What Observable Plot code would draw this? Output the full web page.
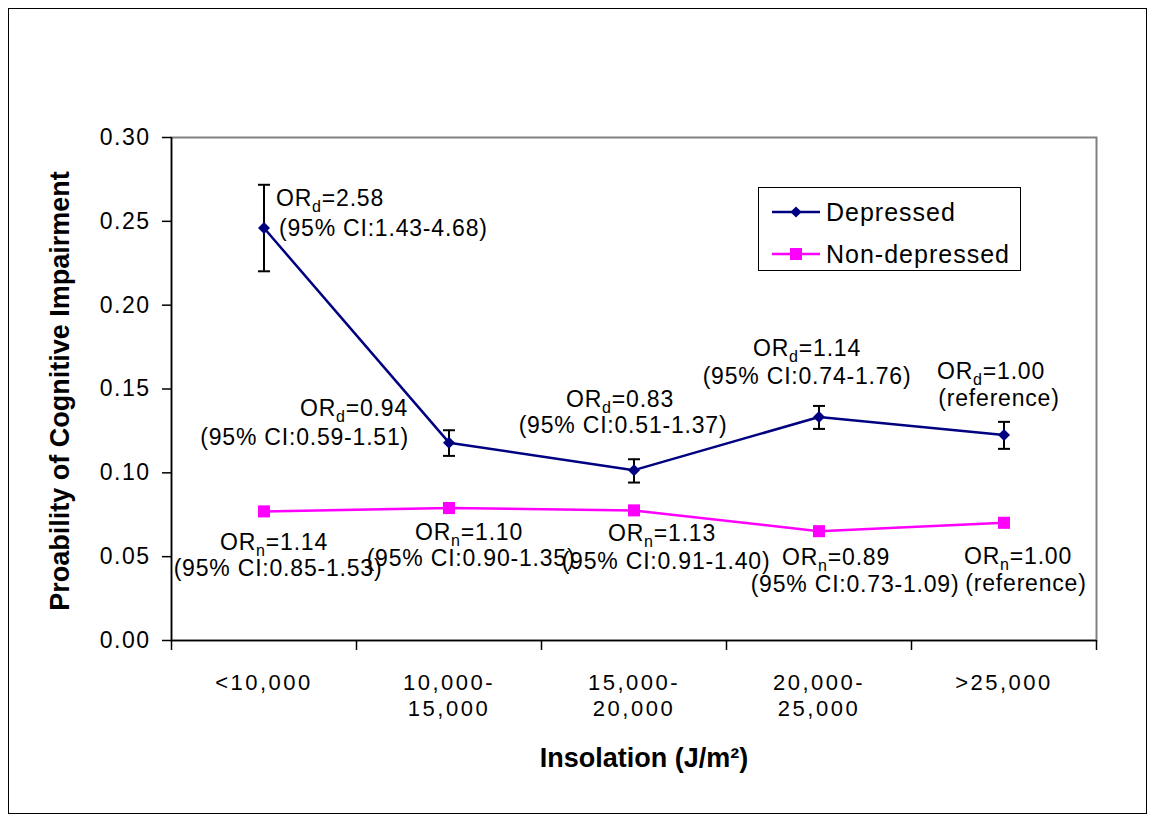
<!DOCTYPE html>
<html><head><meta charset="utf-8">
<script src="https://cdn.jsdelivr.net/npm/d3@7"></script>
<script src="https://cdn.jsdelivr.net/npm/@observablehq/plot@0.6"></script>
<style>
html,body{margin:0;padding:0;background:#fff;}
#wrap{position:relative;width:1156px;height:820px;font-family:"Liberation Sans",Arial,sans-serif;}
#border{position:absolute;left:8px;top:8px;width:1139px;height:806px;border:1.5px solid #000;box-sizing:border-box;pointer-events:none;}
#legend{position:absolute;left:758px;top:187px;width:263px;height:84px;border:1.5px solid #000;box-sizing:border-box;background:#fff;}
#legend .row{position:absolute;left:0;height:34px;display:flex;align-items:center;font-size:25px;letter-spacing:1px;color:#000;}
#legend svg{margin-left:13px;margin-right:6px;}
.ytl text{letter-spacing:1.5px;}
.catl text{letter-spacing:2.5px;}
.ann text{letter-spacing:0.8px;}
</style></head><body>
<div id="wrap"><div id="border"></div><div id="legend"></div></div>
<script>
// ---- data ----
const categories = ["<10,000", "10,000-\n15,000", "15,000-\n20,000", "20,000-\n25,000", ">25,000"];
const seriesNames = ["Depressed", "Non-depressed"];
const depressed = [0.246, 0.118, 0.1016, 0.1333, 0.1226];
const depLow    = [0.2202, 0.1101, 0.0942, 0.1262, 0.1143];
const depHigh   = [0.2718, 0.1254, 0.1081, 0.1399, 0.1304];
const nonDepressed = [0.0770, 0.0790, 0.0776, 0.0652, 0.0702];
const depOR = ["2.58", "0.94", "0.83", "1.14", "1.00"];
const depCI = ["(95% CI:1.43-4.68)", "(95% CI:0.59-1.51)", "(95% CI:0.51-1.37)", "(95% CI:0.74-1.76)", "(reference)"];
const nonOR = ["1.14", "1.10", "1.13", "0.89", "1.00"];
const nonCI = ["(95% CI:0.85-1.53)", "(95% CI:0.90-1.35)", "(95% CI:0.91-1.40)", "(95% CI:0.73-1.09)", "(reference)"];
const yTicks = [0, 0.05, 0.10, 0.15, 0.20, 0.25, 0.30];
const yLabel = "Proability of Cognitive Impairment";
const xLabel = "Insolation (J/m²)";

// ---- styling / layout ----
const colors = ["#000080", "#FF00FF"];
const depLayout = [
  {anchor: "start",  l1: [12, -29], l2: [15, 1]},
  {anchor: "end",    l1: [-41, -34], l2: [-40, -5]},
  {anchor: "middle", l1: [-14, -71], l2: [-11, -45]},
  {anchor: "middle", l1: [-12, -68], l2: [-12, -40]},
  {anchor: "middle", l1: [-13, -63], l2: [-5, -36]}
];
const nonLayout = [
  {anchor: "middle", l1: [10, 31], l2: [14, 57]},
  {anchor: "middle", l1: [20, 25], l2: [22, 51]},
  {anchor: "middle", l1: [28, 23], l2: [32, 51]},
  {anchor: "middle", l1: [17, 26], l2: [36, 53]},
  {anchor: "middle", l1: [14, 34], l2: [22, 61]}
];

const idx = d3.range(categories.length);
const bounds = d3.range(categories.length + 1);
const depRows = idx.map(i => ({pos: i + 0.5, value: depressed[i], low: depLow[i], high: depHigh[i]}));
const nonRows = idx.map(i => ({pos: i + 0.5, value: nonDepressed[i]}));
const capSymbol = {draw(ctx, size) { const w = Math.sqrt(size) / 2; ctx.moveTo(-w, 0); ctx.lineTo(w, 0); }};

const annMarks = [];
idx.forEach(i => {
  const L = depLayout[i];
  annMarks.push(Plot.text([depRows[i]], {x: "pos", y: "value", text: () => "ORd=" + depOR[i], textAnchor: L.anchor, dx: L.l1[0], dy: L.l1[1], fontSize: 23, fill: "#000", className: "ann"}));
  annMarks.push(Plot.text([depRows[i]], {x: "pos", y: "value", text: () => depCI[i], textAnchor: L.anchor, dx: L.l2[0], dy: L.l2[1], fontSize: 23, fill: "#000", className: "ann"}));
  const N = nonLayout[i];
  annMarks.push(Plot.text([nonRows[i]], {x: "pos", y: "value", text: () => "ORn=" + nonOR[i], textAnchor: N.anchor, dx: N.l1[0], dy: N.l1[1], fontSize: 23, fill: "#000", className: "ann"}));
  annMarks.push(Plot.text([nonRows[i]], {x: "pos", y: "value", text: () => nonCI[i], textAnchor: N.anchor, dx: N.l2[0], dy: N.l2[1], fontSize: 23, fill: "#000", className: "ann"}));
});

const chart = Plot.plot({
  width: 1156, height: 820,
  marginLeft: 171, marginRight: 60, marginTop: 137, marginBottom: 180,
  x: {domain: [0, categories.length], axis: null},
  y: {domain: [0, 0.30], axis: null},
  style: {fontFamily: "'Liberation Sans', Arial, sans-serif", background: "transparent", color: "#000", overflow: "visible"},
  marks: [
    Plot.frame({stroke: "#808080", strokeWidth: 2}),
    Plot.axisY(yTicks, {tickFormat: d3.format(".2f"), tickSize: 9, tickPadding: 12, fontSize: 23, stroke: "#000", strokeWidth: 1.5, label: null, className: "ytl"}),
    Plot.axisX(bounds, {tickFormat: () => "", tickSize: 10, stroke: "#000", strokeWidth: 1.5, label: null}),
    Plot.ruleX([0], {stroke: "#000", strokeWidth: 1.5}),
    Plot.ruleY([0], {stroke: "#000", strokeWidth: 1.5}),
    Plot.text(categories, {x: (d, i) => i + 0.5, frameAnchor: "bottom", lineAnchor: "top", dy: 31, lineHeight: 1.18, fontSize: 22, fill: "#000", className: "catl"}),
    Plot.text([yLabel], {frameAnchor: "left", textAnchor: "middle", lineAnchor: "middle", rotate: -90, dx: -111, dy: 2, fontSize: 27, fontWeight: "bold", fill: "#000"}),
    Plot.text([xLabel], {frameAnchor: "bottom", textAnchor: "middle", lineAnchor: "middle", dy: 118, dx: 10, fontSize: 27, fontWeight: "bold", fill: "#000"}),
    // depressed series
    Plot.ruleX(depRows, {x: "pos", y1: "low", y2: "high", stroke: "#000", strokeWidth: 2}),
    Plot.dot(depRows, {x: "pos", y: "low", symbol: capSymbol, r: 6.8, stroke: "#000", strokeWidth: 2, fill: "none"}),
    Plot.dot(depRows, {x: "pos", y: "high", symbol: capSymbol, r: 6.8, stroke: "#000", strokeWidth: 2, fill: "none"}),
    Plot.line(depRows, {x: "pos", y: "value", stroke: colors[0], strokeWidth: 2.5}),
    Plot.dot(depRows, {x: "pos", y: "value", symbol: "diamond2", r: 5.4, fill: colors[0], stroke: "none"}),
    // non-depressed series
    Plot.line(nonRows, {x: "pos", y: "value", stroke: colors[1], strokeWidth: 2.5}),
    Plot.dot(nonRows, {x: "pos", y: "value", symbol: "square", r: 6.8, fill: colors[1], stroke: "none"}),
    ...annMarks
  ]
});

// letter spacing fallback (in case className is not supported)
chart.querySelectorAll("text").forEach(t => {
  const fs = t.closest("[font-size]");
  const size = fs ? +fs.getAttribute("font-size") : 0;
  if (size === 23 && !t.closest("[font-weight]")) t.style.letterSpacing = t.closest("[text-anchor='end']") && /^\d\.\d\d$/.test(t.textContent) ? "1.5px" : "0.8px";
  if (size === 22) t.style.letterSpacing = "2.5px";
});

// subscripts for OR_d / OR_n
chart.querySelectorAll("text").forEach(t => {
  const m = /^OR([dn])=(.*)$/.exec(t.textContent);
  if (!m) return;
  t.textContent = "";
  const ns = "http://www.w3.org/2000/svg";
  const a = document.createElementNS(ns, "tspan"); a.textContent = "OR";
  const b = document.createElementNS(ns, "tspan"); b.textContent = m[1]; b.setAttribute("dy", "6"); b.setAttribute("font-size", "16");
  const c = document.createElementNS(ns, "tspan"); c.textContent = "=" + m[2]; c.setAttribute("dy", "-6");
  t.append(a, b, c);
});

const wrap = document.getElementById("wrap");
chart.style.position = "absolute"; chart.style.left = "0"; chart.style.top = "0";
wrap.insertBefore(chart, wrap.firstChild);

// legend
const legend = d3.select("#legend");
seriesNames.forEach((name, k) => {
  const row = legend.append("div").attr("class", "row").style("top", (k === 0 ? 7 : 49) + "px");
  const s = row.append("svg").attr("width", 48).attr("height", 20);
  s.append("line").attr("x1", 0).attr("x2", 48).attr("y1", 10).attr("y2", 10).attr("stroke", colors[k]).attr("stroke-width", 2.5);
  if (k === 0) s.append("path").attr("d", d3.symbol(d3.symbolDiamond2, 80)()).attr("transform", "translate(24,10)").attr("fill", colors[k]);
  else s.append("rect").attr("x", 18).attr("y", 4).attr("width", 12).attr("height", 12).attr("fill", colors[k]);
  row.append("span").text(name);
});
</script>
</body></html>
